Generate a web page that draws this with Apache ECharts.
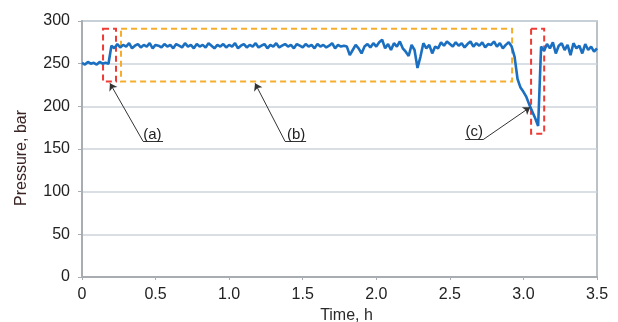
<!DOCTYPE html>
<html>
<head>
<meta charset="utf-8">
<script src="https://cdn.jsdelivr.net/npm/echarts@6/dist/echarts.min.js"></script>
<style>
  html, body { margin: 0; padding: 0; background: #fff; }
  #chart { width: 618px; height: 322px; }
</style>
</head>
<body>
<div id="chart"></div>
<script>
// sampling interval of the pressure log, h
const timeStep = 0.02

// pressure, bar (one value every 0.02 h, from t = 0)
const beforeStep = [251, 249, 252, 250, 251, 249, 252, 250, 251, 250] // 0.00 - 0.18
const plateau = [ // 0.20 - 1.78
  271, 268, 273, 269, 272, 270, 274, 268, 271, 273,
  269, 272, 270, 274, 268, 272, 271, 269, 273, 270,
  272, 268, 273, 271, 269, 274, 270, 272, 268, 273,
  270, 272, 269, 274, 271, 268, 272, 270, 273, 269,
  272, 270, 274, 268, 271, 273, 269, 272, 270, 274,
  269, 271, 273, 268, 272, 270, 274, 269, 271, 273,
  270, 272, 268, 273, 271, 269, 273, 270, 272, 268,
  273, 270, 272, 269, 271, 274, 268, 272, 270, 271
]
const unsteady = [ // 1.80 - 2.48
  270, 260, 266, 272, 268, 262, 270, 273, 269, 274,
  270, 275, 278, 268, 273, 266, 274, 270, 276, 268,
  264, 259, 272, 266, 245, 258, 274, 268, 272, 262,
  270, 268, 275, 271, 276
]
const lateSteady = [ // 2.50 - 2.92
  273, 270, 275, 271, 274, 269, 273, 276, 270, 274,
  271, 275, 269, 273, 272, 276, 270, 274, 268, 272,
  275, 270
]
const pressureDrop = [258, 232, 222, 217, 211, 202, 194, 186, 177] // 2.94 - 3.10
const recovery = [ // 3.12 - 3.50
  270, 265, 273, 268, 275, 262, 271, 274, 266, 272,
  260, 274, 268, 271, 262, 273, 266, 270, 264, 268
]

const pressure = [].concat(beforeStep, plateau, unsteady, lateSteady, pressureDrop, recovery)
const timeTicks = ['0', '0.5', '1.0', '1.5', '2.0', '2.5', '3.0', '3.5']

// dashed boxes: [t0, p0, t1, p1]
const boxA = [0.143, 291, 0.231, 229]
const boxB = [0.265, 291, 2.923, 229]
const boxC = [3.052, 291, 3.141, 168]

// callouts: label position, underline [tStart, tEnd, p], arrow tip
const callouts = [
  { name: '(a)', label: [0.478, 167], line: [0.415, 0.551, 159], tip: [0.19, 227], from: 0 },
  { name: '(b)', label: [1.455, 167], line: [1.38, 1.523, 159], tip: [1.176, 227], from: 0 },
  { name: '(c)', label: [2.665, 170], line: [2.604, 2.726, 161], tip: [3.046, 199], from: 1 }
]

const seriesData = pressure.map((p, i) => [+(i * timeStep).toFixed(2), p])

const box = (b, color) => [
  { coord: [b[0], b[1]], itemStyle: { color: 'transparent', borderColor: color, borderWidth: 2, borderType: [6, 4] } },
  { coord: [b[2], b[3]] }
]

const option = {
  animation: false,
  textStyle: { fontFamily: 'Liberation Sans, Arial, sans-serif' },
  grid: {
    left: 82,
    right: 21,
    top: 21,
    bottom: 45,
    outerBoundsMode: 'none',
    containLabel: false,
    show: true,
    borderColor: '#a7adb3',
    borderWidth: 1.5
  },
  xAxis: {
    type: 'value',
    min: 0,
    max: 3.5,
    interval: 0.5,
    name: 'Time, h',
    nameLocation: 'middle',
    nameGap: 28,
    nameTextStyle: { fontSize: 16, color: '#2a2a2a', padding: [0, 0, 0, 14] },
    axisLine: { lineStyle: { color: '#a7adb3', width: 2 } },
    axisTick: { show: true, length: 3, lineStyle: { color: '#a7adb3' } },
    axisLabel: {
      fontSize: 16,
      color: '#222',
      margin: 10,
      formatter: (v) => timeTicks[Math.round(v / 0.5)]
    },
    splitLine: { show: false }
  },
  yAxis: {
    type: 'value',
    min: 0,
    max: 300,
    interval: 50,
    name: 'Pressure, bar',
    nameLocation: 'middle',
    nameGap: 52,
    nameTextStyle: { fontSize: 16, color: '#3a2424', padding: [0, 18, 0, 0] },
    axisLine: { show: true, lineStyle: { color: '#a7adb3', width: 2 } },
    axisTick: { show: true, length: 4, lineStyle: { color: '#a7adb3' } },
    axisLabel: { fontSize: 16, color: '#222', margin: 12 },
    splitLine: { lineStyle: { color: '#cdd5dc', width: 1.5 } }
  },
  series: [
    {
      name: 'Pressure',
      type: 'line',
      data: seriesData,
      showSymbol: false,
      lineStyle: { color: '#1b6fc0', width: 2.6 },
      z: 3,
      markArea: {
        silent: true,
        data: [box(boxA, '#ee3b35'), box(boxB, '#f7ad2c'), box(boxC, '#ee3b35')]
      }
    },
    {
      // arrows and underlines of the callouts
      type: 'line',
      data: [],
      z: 4,
      markLine: {
        silent: true,
        animation: false,
        lineStyle: { color: '#333', width: 1, type: 'solid' },
        label: { show: false },
        data: callouts.flatMap(c => {
          const start = c.from === 0 ? [c.line[0], c.line[2]] : [c.line[1], c.line[2]]
          return [
            [
              { coord: [c.line[0], c.line[2]], symbol: 'none' },
              { coord: [c.line[1], c.line[2]], symbol: 'none' }
            ],
            [
              { coord: start, symbol: 'none' },
              { coord: c.tip, symbol: 'arrow', symbolSize: 7 }
            ]
          ]
        })
      },
      markPoint: {
        silent: true,
        symbol: 'circle',
        symbolSize: 0,
        label: { show: true, fontSize: 15, color: '#222', position: 'inside' },
        data: callouts.map(c => ({
          coord: c.label,
          label: { formatter: c.name }
        }))
      }
    }
  ]
}

const chart = echarts.init(document.getElementById('chart'))
chart.setOption(option)
</script>
</body>
</html>
